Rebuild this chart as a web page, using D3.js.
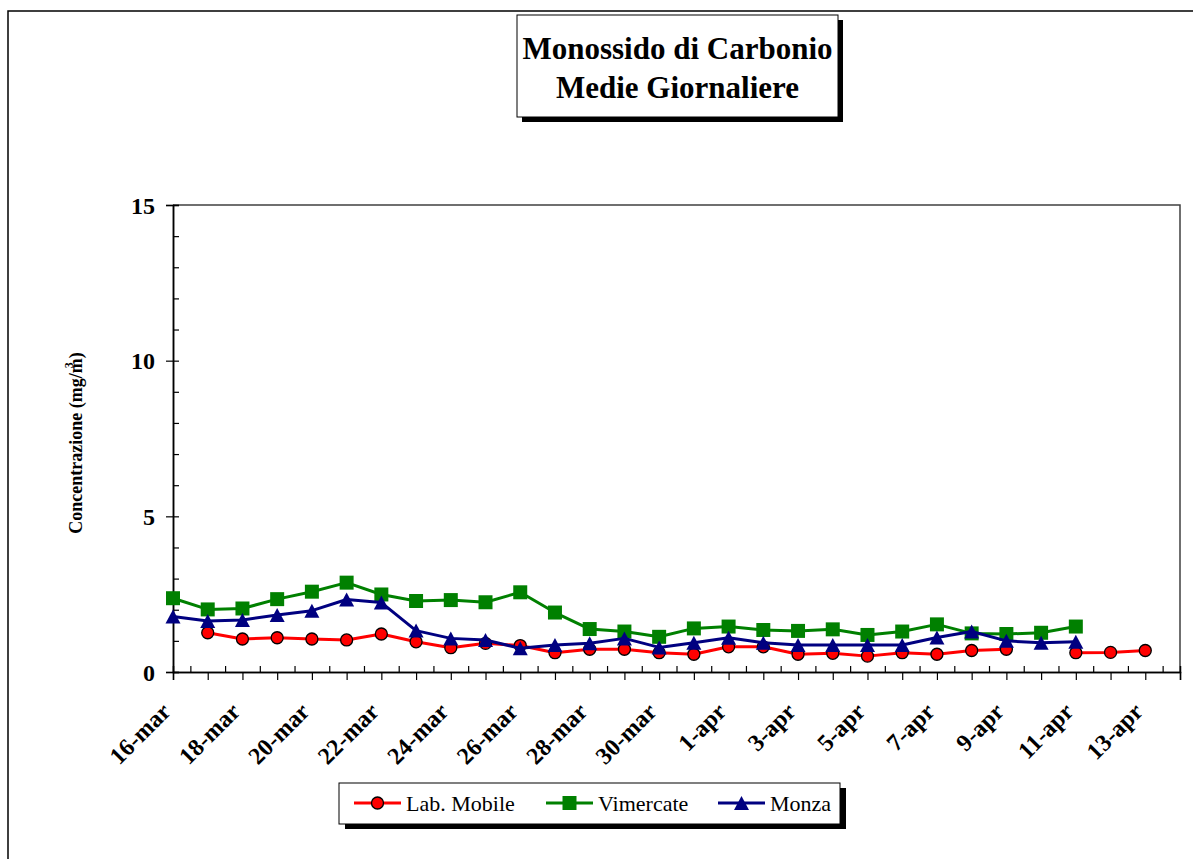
<!DOCTYPE html>
<html>
<head>
<meta charset="utf-8">
<script src="https://cdn.jsdelivr.net/npm/d3@7"></script>
<style>
  html, body { margin: 0; padding: 0; background: #fff; }
  svg { display: block; }
</style>
</head>
<body>
<svg id="chart" width="1193" height="859"></svg>
<script>
// Daily categories (16 March – 13 April)
const dates = [
  "16-mar", "17-mar", "18-mar", "19-mar", "20-mar", "21-mar", "22-mar", "23-mar",
  "24-mar", "25-mar", "26-mar", "27-mar", "28-mar", "29-mar", "30-mar", "31-mar",
  "1-apr", "2-apr", "3-apr", "4-apr", "5-apr", "6-apr", "7-apr", "8-apr",
  "9-apr", "10-apr", "11-apr", "12-apr", "13-apr"
];

// Daily mean CO concentration, mg/m3 (null = no measurement)
const labMobile = [
  null, 1.26, 1.06, 1.10, 1.06, 1.03, 1.22, 0.97,
  0.78, 0.92, 0.85, 0.62, 0.73, 0.73, 0.62, 0.57,
  0.81, 0.81, 0.57, 0.60, 0.51, 0.62, 0.57, 0.69,
  0.73, null, 0.62, 0.63, 0.69
];
const vimercate = [
  2.37, 2.01, 2.04, 2.34, 2.58, 2.87, 2.49, 2.28,
  2.31, 2.24, 2.56, 1.91, 1.38, 1.30, 1.13, 1.40,
  1.46, 1.35, 1.32, 1.37, 1.19, 1.30, 1.53, 1.24,
  1.22, 1.26, 1.46, null, null
];
const monza = [
  1.78, 1.64, 1.67, 1.83, 1.97, 2.33, 2.23, 1.33,
  1.08, 1.03, 0.76, 0.87, 0.92, 1.08, 0.79, 0.94,
  1.10, 0.94, 0.87, 0.87, 0.87, 0.87, 1.11, 1.30,
  1.00, 0.94, 0.97, null, null
];

const seriesNames = ["Lab. Mobile", "Vimercate", "Monza"];
const seriesColors = ["#ff0000", "#008000", "#000080"];
const yMajorTicks = [0, 5, 10, 15];
const yMinorTicks = d3.range(0, 16, 1);
const titleLines = ["Monossido di Carbonio", "Medie Giornaliere"];

const serif = '"Liberation Serif", "Times New Roman", Times, serif';
const svg = d3.select("#chart");

const plot = { left: 173, right: 1180, top: 205, bottom: 672 };
const x = d3.scaleLinear().domain([0, dates.length]).range([plot.left, plot.right]);
const y = d3.scaleLinear().domain([0, 15]).range([plot.bottom, plot.top]);

// Outer chart frame
svg.append("rect")
  .attr("x", 8).attr("y", 11).attr("width", 1300).attr("height", 1000)
  .attr("fill", "none").attr("stroke", "#000").attr("stroke-width", 1.5);

// Plot-area border (top and right)
svg.append("path")
  .attr("d", `M${plot.left},${plot.top}H${plot.right}V${plot.bottom}`)
  .attr("fill", "none").attr("stroke", "#404040").attr("stroke-width", 1.5);

// Y axis: major ticks crossing outward, minor ticks inward
const yMinor = svg.append("g")
  .attr("transform", `translate(${plot.left},0)`)
  .call(d3.axisRight(y).tickValues(yMinorTicks).tickSize(6).tickFormat(""));
const yMajor = svg.append("g")
  .attr("transform", `translate(${plot.left},0)`)
  .call(d3.axisLeft(y).tickValues(yMajorTicks).tickSize(7).tickPadding(11));
[yMinor, yMajor].forEach(g => {
  g.select(".domain").attr("stroke", "#000").attr("stroke-width", 1.5);
  g.selectAll(".tick line").attr("stroke", "#000").attr("stroke-width", 1.2);
});
yMajor.selectAll(".tick text")
  .attr("font-family", serif).attr("font-size", 24).attr("font-weight", "bold")
  .attr("fill", "#000").attr("dy", "0.34em");

// X axis: a tick below at every day, a tick above at each half day
const dayIdx = d3.range(0, dates.length + 1);
const halfIdx = d3.range(0.5, dates.length, 1);
const xDays = svg.append("g")
  .attr("transform", `translate(0,${plot.bottom})`)
  .call(d3.axisBottom(x).tickValues(dayIdx).tickSize(8).tickFormat(""));
const xHalf = svg.append("g")
  .attr("transform", `translate(0,${plot.bottom})`)
  .call(d3.axisTop(x).tickValues(halfIdx).tickSize(6).tickFormat(""));
[xDays, xHalf].forEach(g => {
  g.select(".domain").attr("stroke", "#000").attr("stroke-width", 1.5);
  g.selectAll(".tick line").attr("stroke", "#000").attr("stroke-width", 1.2);
});

// Rotated date labels every second day
svg.append("g").selectAll("text")
  .data(dates.map((d, i) => ({ d, i })).filter(o => o.i % 2 === 0))
  .join("text")
  .attr("transform", o => `translate(${x(o.i) - 1},713) rotate(-45)`)
  .attr("text-anchor", "end")
  .attr("font-family", serif).attr("font-size", 24).attr("font-weight", "bold")
  .text(o => o.d);

// Y axis title
const yTitle = svg.append("text")
  .attr("transform", "translate(82,443) rotate(-90)")
  .attr("text-anchor", "middle")
  .attr("font-family", serif).attr("font-size", 18).attr("font-weight", "bold");
yTitle.append("tspan").text("Concentrazione (mg/m");
yTitle.append("tspan").attr("font-size", 12).attr("dx", -10).attr("dy", -9).text("3");
yTitle.append("tspan").attr("dx", 4).attr("dy", 9).text(")");

// Marker shapes
const markerPath = [
  null,
  "M-7,-7H7V7H-7Z",
  "M0,-7L7.5,7H-7.5Z"
];
function drawMarker(g, k, cx, cy) {
  if (k === 0) {
    g.append("circle").attr("cx", cx).attr("cy", cy).attr("r", 6)
      .attr("fill", seriesColors[0]).attr("stroke", "#000").attr("stroke-width", 1.3);
  } else {
    g.append("path").attr("d", markerPath[k])
      .attr("transform", `translate(${cx},${cy})`)
      .attr("fill", seriesColors[k]);
  }
}

// Series: line then markers, drawn in order
const allSeries = [labMobile, vimercate, monza];
const line = d3.line()
  .defined(v => v != null)
  .x((v, i) => x(i))
  .y(v => y(v));

allSeries.forEach((vals, k) => {
  const g = svg.append("g");
  g.append("path").datum(vals)
    .attr("d", line)
    .attr("fill", "none").attr("stroke", seriesColors[k])
    .attr("stroke-width", 3).attr("stroke-linejoin", "round");
  vals.forEach((v, i) => {
    if (v != null) drawMarker(g, k, x(i), y(v));
  });
});

// Title box with drop shadow
const tb = { x: 517, y: 15, w: 321, h: 102 };
svg.append("rect").attr("x", tb.x + 5).attr("y", tb.y + 5)
  .attr("width", tb.w).attr("height", tb.h).attr("fill", "#000");
svg.append("rect").attr("x", tb.x).attr("y", tb.y)
  .attr("width", tb.w).attr("height", tb.h)
  .attr("fill", "#fff").attr("stroke", "#000").attr("stroke-width", 1);
svg.append("g").selectAll("text").data(titleLines).join("text")
  .attr("x", tb.x + tb.w / 2)
  .attr("y", (d, i) => 59 + i * 39)
  .attr("text-anchor", "middle")
  .attr("font-family", serif).attr("font-size", 31).attr("font-weight", "bold")
  .text(d => d);

// Legend with drop shadow
const lg = { x: 339, y: 783, w: 501, h: 41 };
svg.append("rect").attr("x", lg.x + 6).attr("y", lg.y + 5)
  .attr("width", lg.w).attr("height", lg.h).attr("fill", "#000");
svg.append("rect").attr("x", lg.x).attr("y", lg.y)
  .attr("width", lg.w).attr("height", lg.h)
  .attr("fill", "#fff").attr("stroke", "#000").attr("stroke-width", 1);
const legendX = [354, 546, 718];
const ly = lg.y + 20;
seriesNames.forEach((name, k) => {
  const g = svg.append("g");
  const x0 = legendX[k];
  g.append("line").attr("x1", x0).attr("x2", x0 + 47).attr("y1", ly).attr("y2", ly)
    .attr("stroke", seriesColors[k]).attr("stroke-width", 3);
  drawMarker(g, k, x0 + 23.5, ly);
  g.append("text").attr("x", x0 + 52).attr("y", ly + 8)
    .attr("font-family", serif).attr("font-size", 22)
    .text(name);
});
</script>
</body>
</html>
